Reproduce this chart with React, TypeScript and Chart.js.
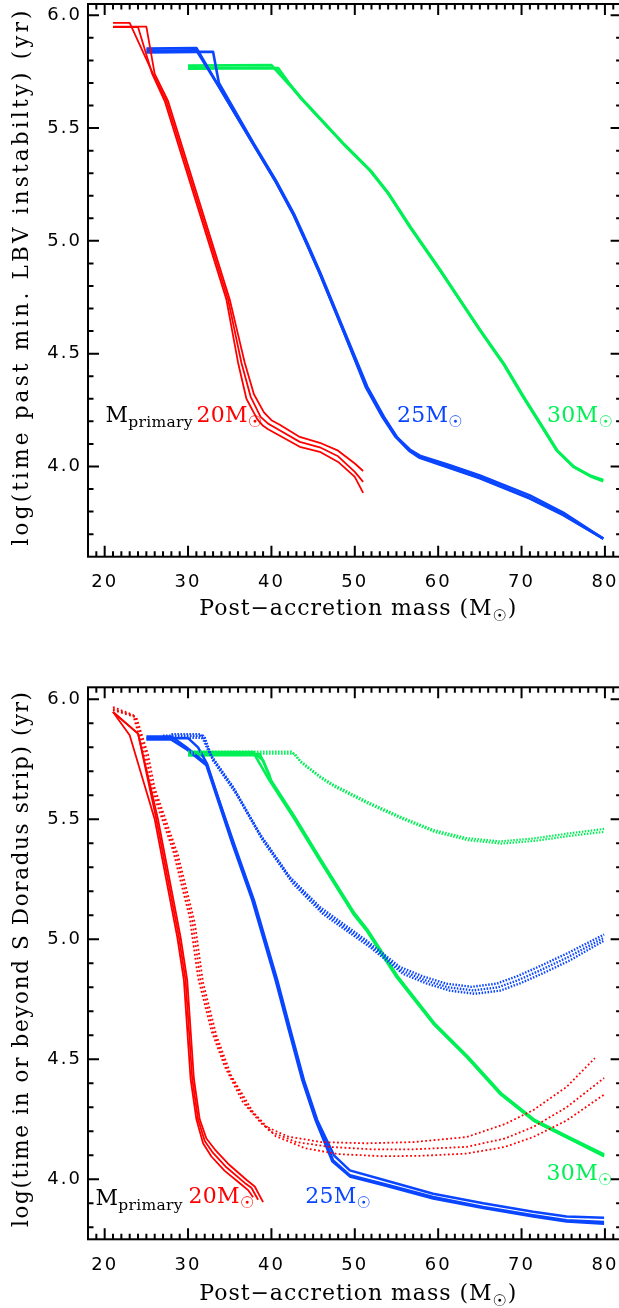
import React, { useEffect, useRef } from 'react';
import { Chart, registerables } from 'chart.js';
Chart.register(...registerables);

type Pt = [number, number];

const RED = '#ff0000';
const BLUE = '#0a46ff';
const GREEN = '#00f055';

const xTickValues = [20, 30, 40, 50, 60, 70, 80];
const xTickLabels = ['20', '30', '40', '50', '60', '70', '80'];
const yTickValues = [4.0, 4.5, 5.0, 5.5, 6.0];
const yTickLabels = ['4.0', '4.5', '5.0', '5.5', '6.0'];
const xRange = [18, 82];
const topYRange = [3.6, 6.05];
const bottomYRange = [3.75, 6.05];

// ---------- Top panel: time past min. LBV instability ----------
const topRed20a: Pt[] = [[21,5.95],[25,5.95],[26.0,5.74],[27.6,5.62],[31.3,5.18],[35.0,4.74],[35.9,4.60],[36.8,4.46],[37.9,4.32],[39.1,4.24],[40.0,4.205],[41.0,4.185],[43.4,4.131],[45.8,4.105],[48.0,4.07],[50.0,4.013],[51.0,3.98]];
const topRed20b: Pt[] = [[21,5.966],[23,5.966],[25.8,5.74],[27.4,5.62],[31.1,5.18],[34.8,4.74],[35.6,4.60],[36.4,4.46],[37.5,4.31],[38.7,4.22],[39.6,4.19],[40.3,4.175],[43.4,4.109],[45.8,4.085],[48.0,4.045],[50.0,3.976],[51.0,3.932]];
const topRed20c: Pt[] = [[21,5.948],[24,5.948],[25.7,5.74],[27.2,5.62],[30.9,5.18],[34.6,4.74],[35.3,4.60],[36.0,4.46],[37.0,4.30],[38.3,4.21],[39.0,4.18],[39.6,4.165],[43.4,4.087],[45.8,4.065],[48.0,4.02],[50.0,3.954],[51.0,3.883]];

const topBlue25a: Pt[] = [[25,5.852],[31.0,5.855],[33.6,5.69],[37.8,5.43],[40.4,5.27],[42.6,5.12],[44.2,4.99],[45.8,4.855],[48.6,4.604],[51.4,4.353],[53.4,4.22],[55.0,4.131],[56.6,4.075],[57.8,4.048],[61.4,4.005],[65.0,3.96],[71.0,3.872],[75.0,3.795],[79.8,3.68]];
const topBlue25b: Pt[] = [[25,5.835],[31.2,5.838],[33.0,5.838],[33.7,5.70],[37.9,5.43],[40.5,5.27],[42.7,5.12],[44.3,4.99],[45.9,4.855],[48.7,4.604],[51.5,4.353],[53.5,4.22],[55.1,4.128],[56.7,4.068],[57.9,4.04],[61.4,3.995],[65.0,3.95],[71.0,3.86],[75.0,3.787],[79.8,3.68]];
const topBlue25c: Pt[] = [[25,5.842],[31.0,5.845],[33.6,5.69],[37.8,5.43],[40.4,5.27],[42.6,5.12],[44.2,4.99],[45.8,4.855],[48.6,4.604],[51.3,4.353],[53.3,4.22],[54.9,4.131],[56.5,4.07],[57.7,4.04],[61.4,3.993],[65.0,3.948],[71.0,3.858],[75.0,3.784],[79.8,3.68]];

const topGreen30a: Pt[] = [[30,5.777],[40.0,5.779],[42.2,5.69],[43.4,5.638],[45.8,5.542],[48.6,5.431],[51.8,5.313],[54.0,5.21],[56.6,5.062],[60.2,4.87],[62.6,4.737],[65.0,4.604],[67.8,4.456],[70.2,4.308],[72.2,4.19],[74.2,4.072],[76.2,4.0],[78.2,3.96],[79.8,3.94]];
const topGreen30b: Pt[] = [[30,5.764],[40.8,5.766],[42.3,5.69],[43.5,5.636],[45.9,5.54],[48.7,5.429],[51.9,5.311],[54.1,5.208],[56.7,5.06],[60.3,4.868],[62.7,4.735],[65.1,4.602],[67.9,4.454],[70.3,4.306],[72.3,4.188],[74.3,4.07],[76.3,3.998],[78.3,3.956],[79.8,3.935]];

// ---------- Bottom panel: time in or beyond S Doradus strip ----------
const botRed20a: Pt[] = [[21,5.947],[23.0,5.85],[26.0,5.50],[28.7,5.01],[29.5,4.83],[30.3,4.42],[31.0,4.25],[31.8,4.15],[32.8,4.095],[34.4,4.035],[36.5,3.975],[37.2,3.955],[37.8,3.925]];
const botRed20b: Pt[] = [[21,5.947],[24.0,5.857],[26.2,5.50],[28.9,5.01],[29.7,4.83],[30.5,4.42],[31.2,4.25],[32.0,4.16],[33.0,4.11],[34.6,4.05],[36.8,3.985],[37.6,3.965],[38.4,3.915]];
const botRed20c: Pt[] = [[21,5.947],[24.0,5.857],[26.4,5.50],[29.1,5.01],[29.9,4.83],[30.7,4.42],[31.4,4.25],[32.2,4.17],[33.2,4.125],[34.8,4.065],[37.1,3.995],[38.0,3.97],[39.0,3.905]];

const botRed20dotA: Pt[] = [[21,5.968],[23.4,5.935],[24.6,5.79],[25.4,5.65],[28.2,5.37],[30.2,5.09],[31.2,4.84],[32.8,4.62],[34.4,4.47],[36.6,4.32],[39.0,4.225],[42.0,4.178],[46.0,4.155],[51.4,4.15],[57.0,4.155],[63.4,4.176],[68.0,4.23],[71.4,4.288],[75.4,4.385],[78.8,4.505]];
const botRed20dotB: Pt[] = [[21,5.96],[23.6,5.93],[24.9,5.78],[25.7,5.64],[28.5,5.36],[30.5,5.08],[31.5,4.83],[33.1,4.61],[34.8,4.45],[37.2,4.30],[39.8,4.20],[43.0,4.155],[47.0,4.135],[52.0,4.125],[57.0,4.125],[63.4,4.135],[68.0,4.17],[71.4,4.218],[75.4,4.30],[79.9,4.422]];
const botRed20dotC: Pt[] = [[21,5.955],[23.8,5.925],[25.2,5.77],[26.0,5.63],[28.8,5.35],[30.8,5.07],[31.8,4.82],[33.4,4.60],[35.2,4.43],[37.8,4.28],[40.5,4.18],[44.0,4.13],[48.0,4.105],[53.4,4.096],[58.0,4.098],[63.4,4.107],[68.0,4.135],[71.4,4.176],[75.4,4.245],[79.9,4.353]];

const botBlue25a: Pt[] = [[25,5.845],[28.0,5.845],[29.8,5.80],[32.2,5.732],[35.5,5.40],[37.9,5.163],[40.7,4.83],[42.3,4.62],[43.9,4.413],[45.5,4.246],[47.5,4.10],[49.4,4.037],[53.4,3.998],[59.4,3.94],[65.4,3.90],[71.4,3.865],[75.4,3.845],[79.9,3.84]];
const botBlue25b: Pt[] = [[25,5.838],[30.0,5.838],[31.2,5.80],[32.3,5.73],[35.4,5.40],[37.8,5.163],[40.6,4.83],[42.2,4.62],[43.8,4.413],[45.4,4.246],[47.4,4.079],[49.4,4.017],[53.4,3.982],[59.4,3.926],[65.4,3.885],[71.4,3.85],[75.4,3.829],[79.9,3.822]];
const botBlue25c: Pt[] = [[25,5.832],[28.0,5.832],[29.9,5.79],[32.2,5.725],[35.3,5.40],[37.7,5.163],[40.5,4.83],[42.1,4.62],[43.7,4.413],[45.3,4.246],[47.3,4.075],[49.4,4.012],[53.4,3.976],[59.4,3.92],[65.4,3.88],[71.4,3.845],[75.4,3.824],[79.9,3.815]];

const botBlue25dotA: Pt[] = [[28,5.855],[31.5,5.855],[32.6,5.775],[35.4,5.635],[38.6,5.44],[42.2,5.26],[45.8,5.135],[51.4,4.995],[55.4,4.885],[58.2,4.845],[61.0,4.815],[64.0,4.802],[67.0,4.815],[69.4,4.845],[72.0,4.885],[75.4,4.94],[79.9,5.02]];
const botBlue25dotB: Pt[] = [[27,5.848],[31.8,5.848],[32.8,5.76],[35.6,5.62],[38.8,5.426],[42.4,5.246],[46.0,5.12],[51.6,4.982],[55.6,4.87],[58.4,4.83],[61.2,4.80],[64.2,4.787],[67.2,4.80],[69.6,4.83],[72.2,4.87],[75.6,4.926],[79.9,5.007]];
const botBlue25dotC: Pt[] = [[28,5.84],[32.0,5.84],[33.0,5.745],[35.8,5.605],[39.0,5.41],[42.6,5.232],[46.2,5.105],[51.8,4.968],[55.8,4.856],[58.6,4.816],[61.4,4.786],[64.4,4.773],[67.4,4.786],[69.8,4.816],[72.4,4.856],[75.8,4.912],[79.9,4.995]];

const botGreen30a: Pt[] = [[30,5.78],[37.8,5.78],[39.8,5.66],[42.6,5.51],[45.8,5.329],[49.8,5.107],[51.4,5.037],[55.0,4.843],[59.4,4.649],[63.4,4.51],[67.4,4.357],[71.4,4.246],[75.4,4.176],[79.9,4.1]];
const botGreen30b: Pt[] = [[30,5.766],[38.2,5.768],[39.0,5.746],[39.9,5.665],[42.7,5.515],[45.9,5.333],[49.9,5.111],[51.5,5.041],[55.1,4.847],[59.5,4.652],[63.5,4.513],[67.5,4.36],[71.5,4.249],[75.5,4.179],[79.9,4.104]];
const botGreen30c: Pt[] = [[30,5.772],[38.6,5.772],[39.7,5.69],[40.0,5.655],[42.8,5.505],[46.0,5.324],[50.0,5.102],[51.6,5.032],[55.2,4.838],[59.6,4.644],[63.6,4.506],[67.6,4.353],[71.6,4.242],[75.6,4.172],[79.9,4.096]];

const botGreen30dotA: Pt[] = [[30,5.782],[42.4,5.782],[43.4,5.745],[45.8,5.68],[47.4,5.645],[51.4,5.575],[55.4,5.512],[59.4,5.456],[63.4,5.422],[67.4,5.408],[71.4,5.42],[75.4,5.44],[79.9,5.46]];
const botGreen30dotB: Pt[] = [[30,5.774],[42.8,5.774],[43.6,5.735],[46.0,5.67],[47.6,5.635],[51.6,5.565],[55.6,5.503],[59.6,5.447],[63.6,5.413],[67.6,5.399],[71.6,5.41],[75.6,5.43],[79.9,5.448]];

// ---------- styling / layout ----------
const SERIF = '"DejaVu Serif", "Liberation Serif", serif';
const SYM = '"DejaVu Sans", sans-serif';
const TICK_FONT = '"DejaVu Sans", sans-serif';
const CANVAS_W = 640;
const PLOT_LEFT = 88;
const PLOT_RIGHT = 621.6;

type Seg = { t: string; size: number; dy?: number; family?: string };
type Note = { segs: Seg[]; x: number; y: number; color: string };

const sunSeg = (size: number, dy: number): Seg => ({ t: '\u2609', size, dy, family: SYM });

const ds = (pts: Pt[], color: string, width: number, dash: number[] = []) => ({
  data: pts.map(([x, y]) => ({ x, y })),
  borderColor: color,
  backgroundColor: color,
  borderWidth: width,
  borderDash: dash,
  borderCapStyle: 'butt',
  borderJoinStyle: 'round',
  pointRadius: 0,
  pointHoverRadius: 0,
  tension: 0,
  fill: false,
});

function drawRich(
  ctx: CanvasRenderingContext2D,
  segs: Seg[],
  x: number,
  y: number,
  align: 'left' | 'center',
  color: string,
  target?: number,
  spacing = 0,
) {
  ctx.save();
  ctx.fillStyle = color;
  ctx.textAlign = 'left';
  ctx.textBaseline = 'alphabetic';
  (ctx as any).letterSpacing = '0px';
  const widths = segs.map((s) => {
    ctx.font = `${s.size}px ${s.family || SERIF}`;
    return ctx.measureText(s.t).width;
  });
  const natural = widths.reduce((a, b) => a + b, 0);
  const n = segs.reduce((a, s) => a + s.t.length, 0);
  let ls = spacing;
  if (target !== undefined && n > 1) ls = (target - natural) / (n - 1);
  const total = natural + ls * (n - 1);
  let cx = align === 'center' ? x - total / 2 : x;
  segs.forEach((s, i) => {
    ctx.font = `${s.size}px ${s.family || SERIF}`;
    (ctx as any).letterSpacing = `${ls}px`;
    ctx.fillText(s.t, cx, y + (s.dy || 0));
    cx += widths[i] + ls * s.t.length;
  });
  ctx.restore();
}

interface PanelSpec {
  height: number;
  padTop: number;
  xAxisHeight: number;
  yRange: number[];
  datasets: any[];
  yTitle: string;
  yTitleCenter: number;
  xTitleBaseline: number;
  notes: Note[];
}

const xTitleSegs: Seg[] = [
  { t: 'Post\u2212accretion mass (M', size: 22 },
  sunSeg(16, 6),
  { t: ')', size: 22 },
];

const topNotes: Note[] = [
  { segs: [{ t: 'M', size: 22 }, { t: 'primary', size: 15.5, dy: 5 }], x: 20.1, y: 4.198, color: '#000' },
  { segs: [{ t: '20M', size: 22 }, sunSeg(16, 5)], x: 31.0, y: 4.198, color: RED },
  { segs: [{ t: '25M', size: 22 }, sunSeg(16, 5)], x: 55.05, y: 4.198, color: BLUE },
  { segs: [{ t: '30M', size: 22 }, sunSeg(16, 5)], x: 73.05, y: 4.198, color: GREEN },
];

const bottomNotes: Note[] = [
  { segs: [{ t: 'M', size: 22 }, { t: 'primary', size: 15.5, dy: 5 }], x: 18.9, y: 3.892, color: '#000' },
  { segs: [{ t: '20M', size: 22 }, sunSeg(16, 5)], x: 30.05, y: 3.9, color: RED },
  { segs: [{ t: '25M', size: 22 }, sunSeg(16, 5)], x: 44.05, y: 3.9, color: BLUE },
  { segs: [{ t: '30M', size: 22 }, sunSeg(16, 5)], x: 73.0, y: 3.996, color: GREEN },
];

const topSpec: PanelSpec = {
  height: 640,
  padTop: 4,
  xAxisHeight: 640 - 556.7,
  yRange: topYRange,
  datasets: [
    ds(topRed20a, RED, 1.8), ds(topRed20b, RED, 1.8), ds(topRed20c, RED, 1.8),
    ds(topBlue25a, BLUE, 2.6), ds(topBlue25b, BLUE, 2.6), ds(topBlue25c, BLUE, 2.6),
    ds(topGreen30a, GREEN, 2.8), ds(topGreen30b, GREEN, 2.8),
  ],
  yTitle: 'log(time past min. LBV instabilty) (yr)',
  yTitleCenter: 278,
  xTitleBaseline: 615,
  notes: topNotes,
};

const bottomSpec: PanelSpec = {
  height: 668,
  padTop: 47.3,
  xAxisHeight: 668 - 599.3,
  yRange: bottomYRange,
  datasets: [
    ds(botRed20dotA, RED, 1.8, [1.8, 2.4]), ds(botRed20dotB, RED, 1.8, [1.8, 2.4]), ds(botRed20dotC, RED, 1.8, [1.8, 2.4]),
    ds(botBlue25dotA, BLUE, 2.4, [1.5, 1.5]), ds(botBlue25dotB, BLUE, 2.4, [1.5, 1.5]), ds(botBlue25dotC, BLUE, 2.4, [1.5, 1.5]),
    ds(botGreen30dotA, GREEN, 2.2, [1.5, 1.5]), ds(botGreen30dotB, GREEN, 2.2, [1.5, 1.5]),
    ds(botRed20a, RED, 1.8), ds(botRed20b, RED, 1.8), ds(botRed20c, RED, 1.8),
    ds(botBlue25a, BLUE, 2.5), ds(botBlue25b, BLUE, 2.5), ds(botBlue25c, BLUE, 2.5),
    ds(botGreen30a, GREEN, 2.6), ds(botGreen30b, GREEN, 2.6), ds(botGreen30c, GREEN, 2.6),
  ],
  yTitle: 'log(time in or beyond S Doradus strip) (yr)',
  yTitleCenter: 319.5,
  xTitleBaseline: 660,
  notes: bottomNotes,
};

const labelFor = (values: number[], labels: string[], v: number) => {
  const i = values.findIndex((t) => Math.abs(t - v) < 1e-6);
  return i >= 0 ? labels[i] : '';
};

function makeDecor(spec: PanelSpec) {
  return {
    id: 'idlDecor',
    beforeDraw(chart: any) {
      (chart.ctx as any).letterSpacing = '2px';
    },
    afterDraw(chart: any) {
      const ctx: CanvasRenderingContext2D = chart.ctx;
      const { left, right, top, bottom } = chart.chartArea;
      const xs = chart.scales.x;
      const ys = chart.scales.y;
      ctx.save();
      (ctx as any).letterSpacing = '0px';
      ctx.setLineDash([]);
      ctx.strokeStyle = '#000';
      ctx.lineWidth = 2;
      ctx.beginPath();
      for (let v = xRange[0] + 1; v < xRange[1]; v++) {
        const px = xs.getPixelForValue(v);
        const len = v % 10 === 0 ? 11 : 5.5;
        ctx.moveTo(px, bottom);
        ctx.lineTo(px, bottom - len);
        ctx.moveTo(px, top);
        ctx.lineTo(px, top + len);
      }
      const k0 = Math.ceil(spec.yRange[0] * 10 + 1e-6);
      const k1 = Math.floor(spec.yRange[1] * 10 - 1e-6);
      for (let k = k0; k <= k1; k++) {
        const py = ys.getPixelForValue(k / 10);
        const len = k % 5 === 0 ? 11 : 5.5;
        ctx.moveTo(left, py);
        ctx.lineTo(left + len, py);
        ctx.moveTo(right, py);
        ctx.lineTo(right - len, py);
      }
      ctx.stroke();
      ctx.strokeRect(left, top, right - left, bottom - top);

      // axis titles
      drawRich(ctx, xTitleSegs, (left + right) / 2 + 3, spec.xTitleBaseline, 'center', '#000', 317);
      ctx.save();
      ctx.translate(28, spec.yTitleCenter);
      ctx.rotate(-Math.PI / 2);
      drawRich(ctx, [{ t: spec.yTitle, size: 21.5 }], 0, 0, 'center', '#000', 535);
      ctx.restore();

      // curve labels
      spec.notes.forEach((n) => {
        drawRich(ctx, n.segs, xs.getPixelForValue(n.x), ys.getPixelForValue(n.y), 'left', n.color, undefined, 0.3);
      });
      ctx.restore();
    },
  };
}

function Panel({ spec, top }: { spec: PanelSpec; top: number }) {
  const ref = useRef<HTMLCanvasElement | null>(null);
  useEffect(() => {
    if (!ref.current) return;
    const chart = new Chart(ref.current, {
      type: 'line',
      data: { datasets: spec.datasets },
      options: {
        responsive: false,
        animation: false,
        devicePixelRatio: 1,
        events: [],
        layout: { padding: { top: spec.padTop, right: CANVAS_W - PLOT_RIGHT, left: 0, bottom: 0 } },
        plugins: { legend: { display: false }, tooltip: { enabled: false }, title: { display: false } },
        scales: {
          x: {
            type: 'linear',
            min: xRange[0],
            max: xRange[1],
            grid: { display: false, drawTicks: false },
            border: { display: false },
            ticks: {
              color: '#000',
              font: { family: TICK_FONT, size: 18 },
              padding: 15,
              maxRotation: 0,
              autoSkip: false,
              callback: (v: any) => labelFor(xTickValues, xTickLabels, Number(v)),
            },
            afterBuildTicks: (s: any) => {
              s.ticks = xTickValues.map((value) => ({ value }));
            },
            afterFit: (s: any) => {
              s.height = spec.xAxisHeight;
              s.paddingLeft = 0;
              s.paddingRight = 0;
            },
          },
          y: {
            type: 'linear',
            min: spec.yRange[0],
            max: spec.yRange[1],
            grid: { display: false, drawTicks: false },
            border: { display: false },
            ticks: {
              color: '#000',
              font: { family: TICK_FONT, size: 18 },
              padding: 6,
              autoSkip: false,
              callback: (v: any) => labelFor(yTickValues, yTickLabels, Number(v)),
            },
            afterBuildTicks: (s: any) => {
              s.ticks = yTickValues.map((value) => ({ value }));
            },
            afterFit: (s: any) => {
              s.width = PLOT_LEFT;
              s.paddingTop = 0;
              s.paddingBottom = 0;
            },
          },
        },
      } as any,
      plugins: [makeDecor(spec)],
    });
    return () => chart.destroy();
  }, [spec]);
  return (
    <canvas
      ref={ref}
      width={CANVAS_W}
      height={spec.height}
      style={{ position: 'absolute', left: 0, top, width: CANVAS_W, height: spec.height, display: 'block' }}
    />
  );
}

export default function App() {
  return (
    <div
      style={{
        position: 'absolute',
        left: 0,
        top: 0,
        width: 619,
        height: 1308,
        overflow: 'hidden',
        background: '#fff',
      }}
    >
      <Panel spec={topSpec} top={0} />
      <Panel spec={bottomSpec} top={640} />
    </div>
  );
}
